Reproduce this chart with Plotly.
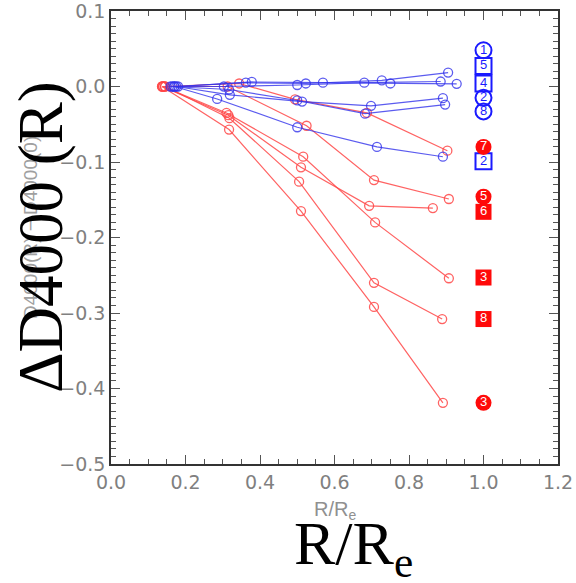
import plotly.graph_objects as go

# ---- data ----
red_x = [
    [0.140, 0.344, 0.494, 0.687, 0.903],   # 7
    [0.145, 0.313, 0.525, 0.706, 0.907],   # 5
    [0.137, 0.315, 0.510, 0.693, 0.864],   # 6
    [0.140, 0.310, 0.516, 0.709, 0.907],   # 3 (square)
    [0.145, 0.318, 0.505, 0.706, 0.889],   # 8
    [0.137, 0.317, 0.510, 0.706, 0.891],   # 3 (circle)
]
red_y = [
    [0.0, 0.004, -0.017, -0.035, -0.085],
    [0.0, 0.000, -0.052, -0.124, -0.149],
    [0.0, -0.038, -0.107, -0.158, -0.161],
    [0.0, -0.035, -0.093, -0.180, -0.254],
    [0.0, -0.042, -0.126, -0.260, -0.308],
    [0.0, -0.057, -0.165, -0.292, -0.419],
]
blue_x = [
    [0.170, 0.362, 0.523, 0.727, 0.905],   # 1
    [0.165, 0.303, 0.500, 0.680, 0.885],   # 5
    [0.180, 0.378, 0.569, 0.750, 0.928],   # 4
    [0.175, 0.319, 0.513, 0.698, 0.891],   # 2 (circle)
    [0.160, 0.317, 0.500, 0.682, 0.897],   # 8
    [0.170, 0.285, 0.500, 0.714, 0.891],   # 2 (square)
]
blue_y = [
    [0.0, 0.005, 0.004, 0.008, 0.0185],
    [0.0, 0.000, 0.002, 0.005, 0.0066],
    [0.0, 0.006, 0.005, 0.004, 0.0036],
    [0.0, -0.011, -0.020, -0.0256, -0.0154],
    [0.0, -0.004, -0.0185, -0.036, -0.024],
    [0.0, -0.0165, -0.054, -0.080, -0.093],
]

blue_label_text = ["1", "5", "4", "2", "8", "2"]
blue_label_y = [0.048, 0.027, 0.004, -0.015, -0.033, -0.099]
blue_label_symbol = ["circle-open", "square-open", "square-open", "circle-open", "circle-open", "square-open"]

red_label_text = ["7", "5", "6", "3", "8", "3"]
red_label_y = [-0.080, -0.146, -0.166, -0.253, -0.308, -0.419]
red_label_symbol = ["circle", "circle", "square", "square", "square", "circle"]

label_x = 1.0

x_ticks = [0.0, 0.2, 0.4, 0.6, 0.8, 1.0, 1.2]
y_ticks = [-0.5, -0.4, -0.3, -0.2, -0.1, 0.0, 0.1]

RED = "rgba(255,70,70,0.85)"
BLUE = "rgba(50,50,235,0.8)"

fig = go.Figure()

for xs, ys in zip(red_x, red_y):
    fig.add_trace(go.Scatter(
        x=xs, y=ys, mode="lines+markers",
        line=dict(color=RED, width=1.2),
        marker=dict(symbol="circle-open", size=9, color=RED, line=dict(width=1.3)),
        showlegend=False, hoverinfo="skip"))

for xs, ys in zip(blue_x, blue_y):
    fig.add_trace(go.Scatter(
        x=xs, y=ys, mode="lines+markers",
        line=dict(color=BLUE, width=1.2),
        marker=dict(symbol="circle-open", size=9, color=BLUE, line=dict(width=1.3)),
        showlegend=False, hoverinfo="skip"))

# label symbols on the right
fig.add_trace(go.Scatter(
    x=[label_x] * len(blue_label_y), y=blue_label_y, mode="markers+text",
    text=blue_label_text, textposition="middle center",
    textfont=dict(family="Liberation Sans, Arial", size=13, color="#1a1aff"),
    marker=dict(symbol=blue_label_symbol, size=16, color="#1a1aff", line=dict(width=2, color="#1a1aff")),
    showlegend=False, hoverinfo="skip"))

fig.add_trace(go.Scatter(
    x=[label_x] * len(red_label_y), y=red_label_y, mode="markers+text",
    text=red_label_text, textposition="middle center",
    textfont=dict(family="Liberation Sans, Arial", size=13, color="white"),
    marker=dict(symbol=red_label_symbol, size=16, color="#ff0a0a", line=dict(width=0)),
    showlegend=False, hoverinfo="skip"))

axis_common = dict(
    showline=True, linecolor="#333333", linewidth=1.5, mirror="allticks",
    ticks="inside", ticklen=9, tickwidth=1.2, tickcolor="#555555",
    showgrid=False, zeroline=False, automargin=False,
    ticklabeloverflow="allow",
    tickfont=dict(family="DejaVu Sans", size=19, color="#808080"),
    tickformat=".1f",
)

fig.update_layout(
    width=576, height=583,
    margin=dict(l=111, r=18, t=11, b=119, autoexpand=False),
    paper_bgcolor="white", plot_bgcolor="white",
    xaxis=dict(range=[0, 1.2], tickvals=x_ticks,
               minor=dict(dtick=0.05, ticks="inside", ticklen=5, tickcolor="#555555"),
               **axis_common),
    yaxis=dict(range=[-0.5, 0.1], tickvals=y_ticks,
               minor=dict(dtick=0.01, ticks="inside", ticklen=5, tickcolor="#555555"),
               **axis_common),
    annotations=[
        dict(text="D4000(R) − D4000(0)", xref="paper", yref="paper",
             x=(30 - 111) / 447, y=(464 - 228) / 453, textangle=-90,
             showarrow=False, xanchor="center", yanchor="middle",
             font=dict(family="Liberation Sans, Arial", size=19, color="#a0a0a0")),
        dict(text="R/R<sub>e</sub>", xref="paper", yref="paper",
             x=0.5, y=(464 - 510) / 453, showarrow=False,
             xanchor="center", yanchor="middle",
             font=dict(family="Liberation Sans, Arial", size=20, color="#909090")),
        dict(text="ΔD4000 (R)", xref="paper", yref="paper",
             x=(41 - 111) / 447, y=(464 - 237) / 453, textangle=-90,
             showarrow=False, xanchor="center", yanchor="middle",
             font=dict(family="Liberation Serif, Times New Roman", size=63, color="black")),
        dict(text="R/R<sub>e</sub>", xref="paper", yref="paper",
             x=(353 - 111) / 447, y=(464 - 547) / 453, showarrow=False,
             xanchor="center", yanchor="middle",
             font=dict(family="Liberation Serif, Times New Roman", size=62, color="black")),
    ],
)

fig.write_html("out.html", config={"displayModeBar": False},
               post_script="document.body.style.margin='0';")
